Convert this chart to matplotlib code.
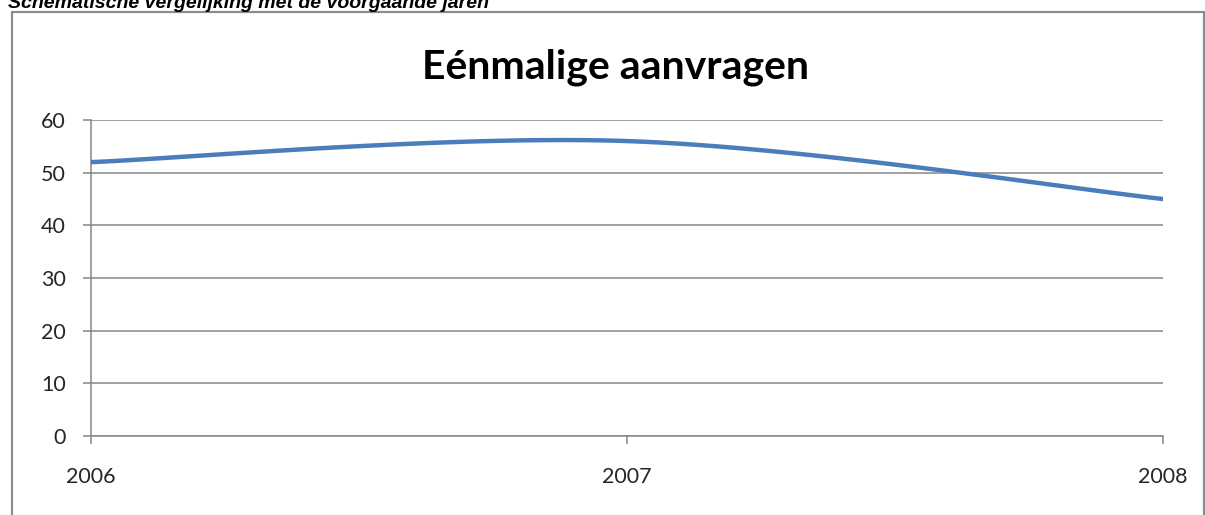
import numpy as np
import matplotlib
matplotlib.use("Agg")
import matplotlib.pyplot as plt
from matplotlib.patches import Rectangle

years = [2006, 2007, 2008]
aanvragen = [52, 56, 45]
y_ticks = [0, 10, 20, 30, 40, 50, 60]


def smooth_curve(xs, ys, n=60):
    """
    Catmull-Rom style smoothing, like the smoothed line option in Excel.
    """
    pts = np.column_stack([xs, ys]).astype(float)
    out = []
    for i in range(len(pts) - 1):
        p0 = pts[i - 1] if i > 0 else pts[i]
        p1 = pts[i]
        p2 = pts[i + 1]
        p3 = pts[i + 2] if i + 2 < len(pts) else pts[i + 1]
        c1 = p1 + (p2 - p0) / 6
        c2 = p2 - (p3 - p1) / 6
        t = np.linspace(0, 1, n)[:, None]
        seg = ((1 - t) ** 3 * p1 + 3 * (1 - t) ** 2 * t * c1
               + 3 * (1 - t) * t ** 2 * c2 + t ** 3 * p2)
        out.append(seg if i == 0 else seg[1:])
    curve = np.vstack(out)
    return curve[:, 0], curve[:, 1]


def main():
    fig = plt.figure(figsize=(12.05, 5.15), dpi=100)
    ax = fig.add_axes([0.0755, 0.1534, 0.8896, 0.6136])

    grey = "#868686"
    sx, sy = smooth_curve(years, aanvragen)
    ax.plot(sx, sy, color="#4A7EBB", lw=3.2, solid_capstyle="round", zorder=3)

    ax.set_xlim(2006, 2008)
    ax.set_ylim(0, 60)
    ax.set_xticks(years)
    ax.set_yticks(y_ticks)
    ax.yaxis.grid(True, color=grey, lw=1.1)
    ax.set_axisbelow(True)

    for side in ["top", "right"]:
        ax.spines[side].set_visible(False)
    for side in ["left", "bottom"]:
        ax.spines[side].set_color(grey)
        ax.spines[side].set_linewidth(1.1)

    ax.tick_params(axis="y", length=6, width=1.1, color=grey, pad=12,
                   labelsize=15.5, labelcolor="#262626")
    ax.tick_params(axis="x", length=6, width=1.1, color=grey, pad=16,
                   labelsize=15.5, labelcolor="#262626")
    for lbl in ax.get_xticklabels() + ax.get_yticklabels():
        lbl.set_fontfamily("Lato")

    fig.text(0.511, 1 - 78 / 515, "Eénmalige aanvragen", ha="center", va="baseline",
             fontsize=29.5, family="Lato", weight="bold")

    # outer chart frame
    fig.patches.append(Rectangle((12 / 1205, -0.05), 1192 / 1205, 1.05 - 12 / 515,
                                 transform=fig.transFigure, fill=False,
                                 edgecolor="#8c8c8c", lw=1.6))

    # heading of the document, cut off at the top
    fig.text(8 / 1205, 1 - 8 / 515, "Schematische vergelijking met de voorgaande jaren",
             ha="left", va="baseline", fontsize=14, family="Liberation Sans",
             weight="bold", style="italic")

    fig.savefig("out.png", dpi=100)


if __name__ == "__main__":
    main()
